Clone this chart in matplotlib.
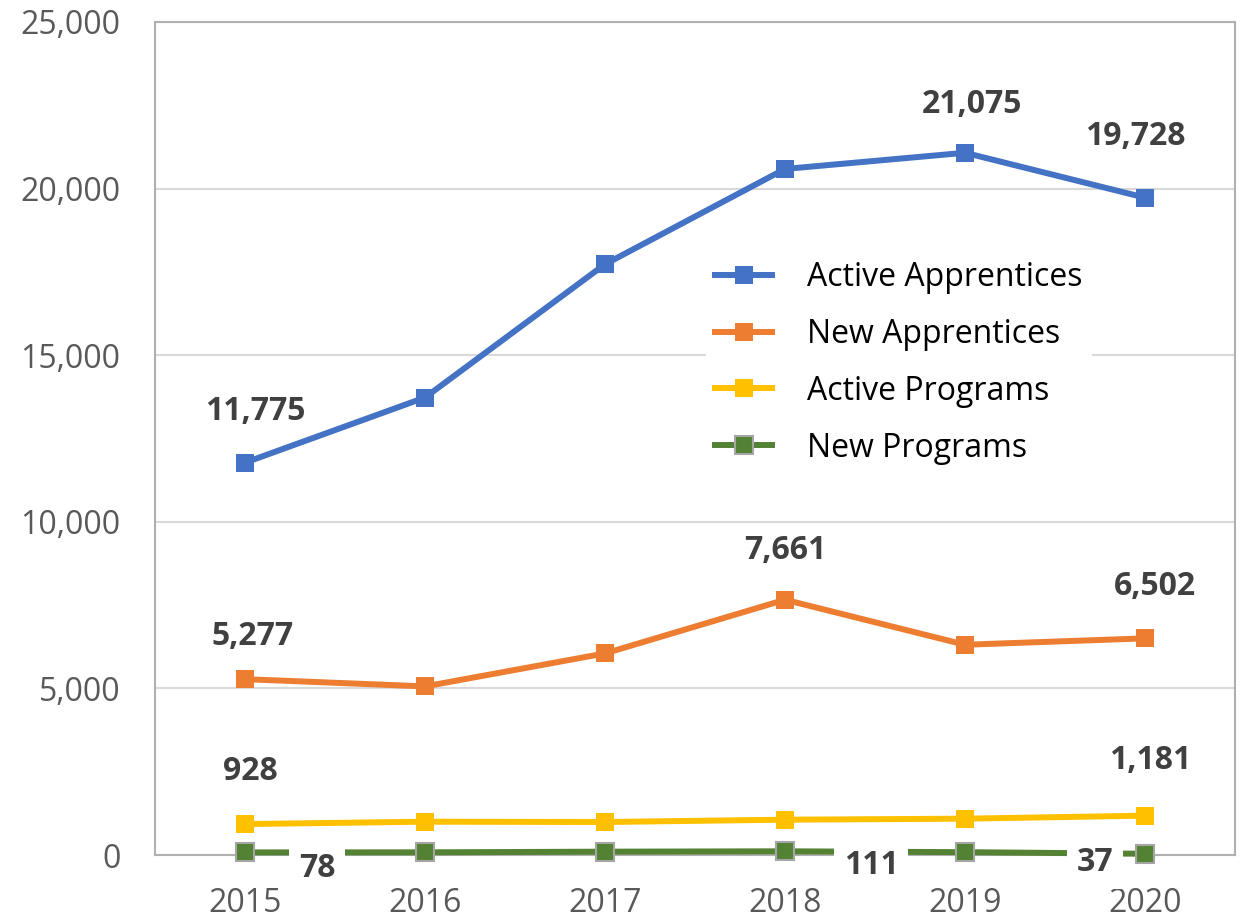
import numpy as np
import matplotlib.pyplot as plt

# values
years = ['2015', '2016', '2017', '2018', '2019', '2020']
active_apprentices = [11775, 13730, 17730, 20590, 21075, 19728]
new_apprentices = [5277, 5060, 6050, 7661, 6310, 6502]
active_programs = [928, 1000, 990, 1060, 1090, 1181]
new_programs = [78, 80, 100, 111, 85, 37]

series = [
    ('Active Apprentices', active_apprentices, '#4472C4'),
    ('New Apprentices', new_apprentices, '#ED7D31'),
    ('Active Programs', active_programs, '#FFC000'),
    ('New Programs', new_programs, '#548235'),
]

# which points get a label, and where (offset in pixels from the point)
label_spots = {
    'Active Apprentices': [(0, (10, 51)), (4, (7, 48)), (5, (-10, 61))],
    'New Apprentices': [(0, (8, 43)), (3, (0, 49)), (5, (10, 52))],
    'Active Programs': [(0, (5, 53)), (5, (5, 55))],
    'New Programs': [(0, (72, -16)), (3, (86, -14)), (5, (-50, -9))],
}

plt.rcParams['font.family'] = ['Open Sans', 'DejaVu Sans']

fig = plt.figure(figsize=(12.43, 9.22), dpi=100)
ax = fig.add_axes([155 / 1243, 1 - 855 / 922, 1080 / 1243, 833 / 922])

x = np.arange(len(years))
for name, vals, col in series:
    edge = '#A5A5A5' if name == 'New Programs' else col
    ax.plot(x, vals, color=col, lw=4.3, marker='s', ms=12.5,
            mec=edge, mew=1.5 if name == 'New Programs' else 0,
            label=name, clip_on=False, zorder=3)
    for i, off in label_spots[name]:
        kw = {}
        if name == 'New Programs':
            kw['bbox'] = dict(boxstyle='square,pad=0.3', fc='white', ec='none')
        ax.annotate(f'{vals[i]:,}', (x[i], vals[i]), xytext=off,
                    textcoords='offset pixels', ha='center', va='center',
                    fontsize=23, fontweight='bold', color='#404040',
                    zorder=4, annotation_clip=False, **kw)

ax.set_xlim(-0.5, 5.5)
ax.set_ylim(0, 25000)
ax.set_xticks(x)
ax.set_xticklabels(years)
ax.set_yticks(np.arange(0, 25001, 5000))
ax.yaxis.set_major_formatter(plt.FuncFormatter(lambda v, p: f'{int(v):,}'))
ax.tick_params(axis='both', length=0, labelsize=23, labelcolor='#595959')
ax.tick_params(axis='y', pad=25)
ax.tick_params(axis='x', pad=23)
ax.grid(axis='y', color='#D9D9D9', lw=1.5, zorder=0)
ax.set_axisbelow(True)
for s in ax.spines.values():
    s.set_color('#B0B0B0')
    s.set_linewidth(1.5)

leg = ax.legend(loc='center left', bbox_to_anchor=(0.510, 0.591),
                fontsize=23, frameon=True, facecolor='white', edgecolor='none',
                framealpha=1, fancybox=False, borderpad=0.3, borderaxespad=0,
                handlelength=1.78, handletextpad=1.1, labelspacing=0.75)
for t in leg.get_texts():
    t.set_color('black')

fig.savefig('out.png', dpi=100)
